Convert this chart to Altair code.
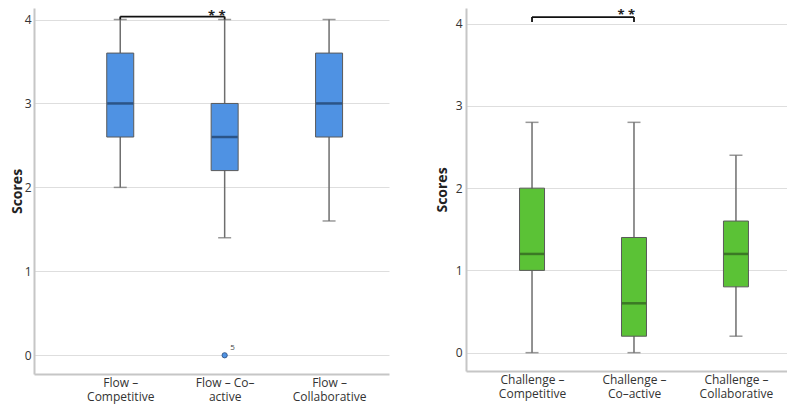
import altair as alt
import pandas as pd

# ---- data ----
flow_cats = ["Flow –\nCompetitive", "Flow – Co–\nactive", "Flow –\nCollaborative"]
flow_low = [2.0, 1.4, 1.6]
flow_q1 = [2.6, 2.2, 2.6]
flow_med = [3.0, 2.6, 3.0]
flow_q3 = [3.6, 3.0, 3.6]
flow_high = [4.0, 4.0, 4.0]
flow_out_cat = ["Flow – Co–\nactive"]
flow_out_val = [0.0]
flow_out_lab = ["5"]

chal_cats = ["Challenge –\nCompetitive", "Challenge –\nCo–active", "Challenge –\nCollaborative"]
chal_low = [0.0, 0.0, 0.2]
chal_q1 = [1.0, 0.2, 0.8]
chal_med = [1.2, 0.6, 1.2]
chal_q3 = [2.0, 1.4, 1.6]
chal_high = [2.8, 2.8, 2.4]

sig_label = "* *"
y_ticks = [0, 1, 2, 3, 4]

FONT = "Open Sans"


def panel(cats, low, q1, med, q3, high, fill, med_color, box_w, width, height,
          ydomain, pad, align, br_top, br_bot, star_y, tpad, lpad, out=None):
    df = pd.DataFrame({"cat": cats, "low": low, "q1": q1, "med": med,
                       "q3": q3, "high": high})
    xs = alt.Scale(type="point", domain=cats, padding=pad, align=align)
    xax = alt.Axis(title=None, labelExpr="split(datum.label, '\\n')",
                   labelAngle=0, labelLineHeight=14, labelPadding=3,
                   labelFontSize=12, labelBaseline="top")
    X = lambda f="cat": alt.X(f"{f}:N", scale=xs, axis=xax)
    ys = alt.Scale(domain=ydomain, nice=False, zero=False)
    yax = alt.Axis(title="Scores", values=y_ticks, labelPadding=lpad,
                   titlePadding=tpad, format="d")
    Y = lambda f: alt.Y(f"{f}:Q", scale=ys, axis=yax)

    base = alt.Chart(df)
    whisk = base.mark_rule(color="#6e6e6e", strokeWidth=1.5).encode(
        x=X(), y=Y("low"), y2="high")
    cap_lo = base.mark_tick(color="#6e6e6e", size=13, thickness=1.5).encode(
        x=X(), y=Y("low"))
    cap_hi = base.mark_tick(color="#6e6e6e", size=13, thickness=1.5).encode(
        x=X(), y=Y("high"))
    box = base.mark_bar(size=box_w, color=fill, stroke="#5a5a5a",
                        strokeWidth=1).encode(x=X(), y=Y("q1"), y2="q3")
    medl = base.mark_tick(color=med_color, size=box_w - 1, thickness=2.5).encode(
        x=X(), y=Y("med"))
    layers = [whisk, cap_lo, cap_hi, box, medl]

    if out is not None:
        odf = pd.DataFrame({"cat": out[0], "v": out[1], "lab": out[2]})
        ob = alt.Chart(odf)
        layers.append(ob.mark_point(filled=True, color=fill, stroke="#2a4a7a",
                                    strokeWidth=0.8, size=28, opacity=1).encode(
            x=X(), y=Y("v")))
        layers.append(ob.mark_text(font=FONT, fontSize=8, color="#444",
                                   dx=8, dy=-7).encode(
            x=X(), y=Y("v"), text="lab:N"))

    bdf = pd.DataFrame({"cat": [cats[0]], "cat2": [cats[1]], "top": [br_top]})
    edf = pd.DataFrame({"cat": [cats[0], cats[1]], "top": [br_top, br_top],
                        "bot": [br_bot, br_bot]})
    sdf = pd.DataFrame({"cat": [cats[1]], "sy": [star_y], "lab": [sig_label]})
    layers.append(alt.Chart(bdf).mark_rule(color="#111", strokeWidth=1.8).encode(
        x=X(), x2="cat2:N", y=Y("top")))
    layers.append(alt.Chart(edf).mark_rule(color="#111", strokeWidth=1.8).encode(
        x=X(), y=Y("bot"), y2="top"))
    layers.append(alt.Chart(sdf).mark_text(font=FONT, fontSize=13, fontWeight="bold",
                                           color="#222", align="right",
                                           baseline="alphabetic", dx=1).encode(
        x=X(), y=Y("sy"), text="lab:N"))

    return alt.layer(*layers).properties(width=width, height=height)


left = panel(flow_cats, flow_low, flow_q1, flow_med, flow_q3, flow_high,
             "#4f92e3", "#1d3a60", 27, 355, 366, [-0.223, 4.137],
             0.70, 0.59, 4.035, 4.0, 3.995, 0, 3,
             out=(flow_out_cat, flow_out_val, flow_out_lab))
right = panel(chal_cats, chal_low, chal_q1, chal_med, chal_q3, chal_high,
              "#5bc236", "#2e5a1e", 25, 321, 363, [-0.223, 4.19],
              0.574, 0.564, 4.08, 4.02, 4.055, 6, 4)

chart = alt.hconcat(left, right, spacing=46).properties(
    padding={"left": 2, "top": 0, "right": 0, "bottom": 2}
).configure_axis(
    domainColor="#c6c6c6", domainWidth=2, gridColor="#dedede", gridWidth=1,
    labelFont=FONT, labelFontSize=12, labelColor="#333", ticks=False,
    titleFont=FONT, titleFontSize=14, titleFontWeight="bold", titleColor="#222"
).configure_axisX(grid=False).configure_view(stroke=None)

chart.save("out.html", embed_options={"renderer": "svg", "actions": False})
